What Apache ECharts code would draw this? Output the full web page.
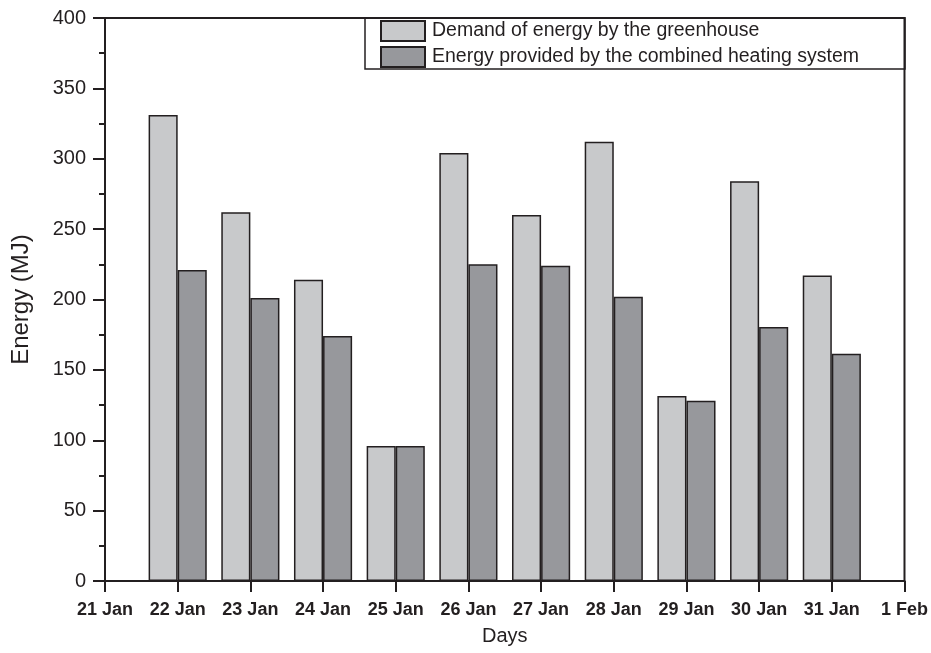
<!DOCTYPE html>
<html>
<head>
<meta charset="utf-8">
<script src="https://cdn.jsdelivr.net/npm/echarts@6/dist/echarts.min.js"></script>
<style>
  html, body { margin: 0; padding: 0; background: #fff; }
  #chart { width: 931px; height: 653px; }
</style>
</head>
<body>
<div id="chart"></div>
<script>
// Daily energy balance of the greenhouse, 22–31 January
const days = ['21 Jan', '22 Jan', '23 Jan', '24 Jan', '25 Jan', '26 Jan', '27 Jan',
              '28 Jan', '29 Jan', '30 Jan', '31 Jan', '1 Feb'];
const demand = [null, 331, 262, 214, 96, 304, 260, 312, 131.5, 284, 217, null];
const provided = [null, 221, 201, 174, 96, 225, 224, 202, 128, 180.5, 161.5, null];
const seriesNames = ['Demand of energy by the greenhouse',
                     'Energy provided by the combined heating system'];
const yTicks = { min: 0, max: 400, step: 50 };

const ink = '#231f20';
const font = 'Liberation Sans, Arial, Helvetica, sans-serif';

const chart = echarts.init(document.getElementById('chart'), null, { renderer: 'canvas' });

chart.setOption({
  animation: false,
  backgroundColor: '#ffffff',
  textStyle: { fontFamily: font, color: ink },
  grid: {
    left: 105, right: 26, top: 18, bottom: 72,
    show: true, borderColor: ink, borderWidth: 2, backgroundColor: 'transparent'
  },
  legend: {
    orient: 'vertical',
    left: 380, top: 20,
    icon: 'rect',
    itemWidth: 44, itemHeight: 20, itemGap: 4,
    padding: 0,
    textStyle: { fontSize: 19.5, color: ink, fontFamily: font, padding: [0, 0, 0, 2] },
    data: seriesNames
  },
  // frame around the legend, closing against the plot border
  graphic: [{
    type: 'rect',
    shape: { x: 365, y: 18, width: 540, height: 51 },
    style: { fill: 'transparent', stroke: ink, lineWidth: 1.5 },
    z: 100
  }],
  xAxis: {
    type: 'category',
    data: days,
    boundaryGap: false,
    name: 'Days',
    nameLocation: 'middle',
    nameGap: 45,
    nameTextStyle: { fontSize: 20, color: ink, fontFamily: font },
    axisLine: { lineStyle: { color: ink, width: 2 } },
    axisTick: { show: true, interval: 0, length: 11, lineStyle: { color: ink, width: 2 } },
    axisLabel: { interval: 0, fontSize: 18, fontWeight: 'bold', color: ink, margin: 20, fontFamily: font },
    splitLine: { show: false }
  },
  yAxis: {
    type: 'value',
    min: yTicks.min, max: yTicks.max, interval: yTicks.step,
    name: 'Energy (MJ)',
    nameLocation: 'middle',
    nameGap: 72,
    nameTextStyle: { fontSize: 24, color: ink, fontFamily: font },
    axisLine: { show: true, lineStyle: { color: ink, width: 2 } },
    axisTick: { show: true, length: 12, lineStyle: { color: ink, width: 2 } },
    minorTick: { show: true, splitNumber: 2, length: 6, lineStyle: { color: ink, width: 2 } },
    axisLabel: { fontSize: 20, color: ink, margin: 19, fontFamily: font },
    splitLine: { show: false },
    minorSplitLine: { show: false }
  },
  series: [
    {
      name: seriesNames[0],
      type: 'bar',
      data: demand,
      barGap: '0%',
      barCategoryGap: '20%',
      itemStyle: { color: '#c8c9cb', borderColor: ink, borderWidth: 1.5 }
    },
    {
      name: seriesNames[1],
      type: 'bar',
      data: provided,
      barGap: '0%',
      barCategoryGap: '20%',
      itemStyle: { color: '#97989c', borderColor: ink, borderWidth: 1.5 }
    }
  ]
});
</script>
</body>
</html>
